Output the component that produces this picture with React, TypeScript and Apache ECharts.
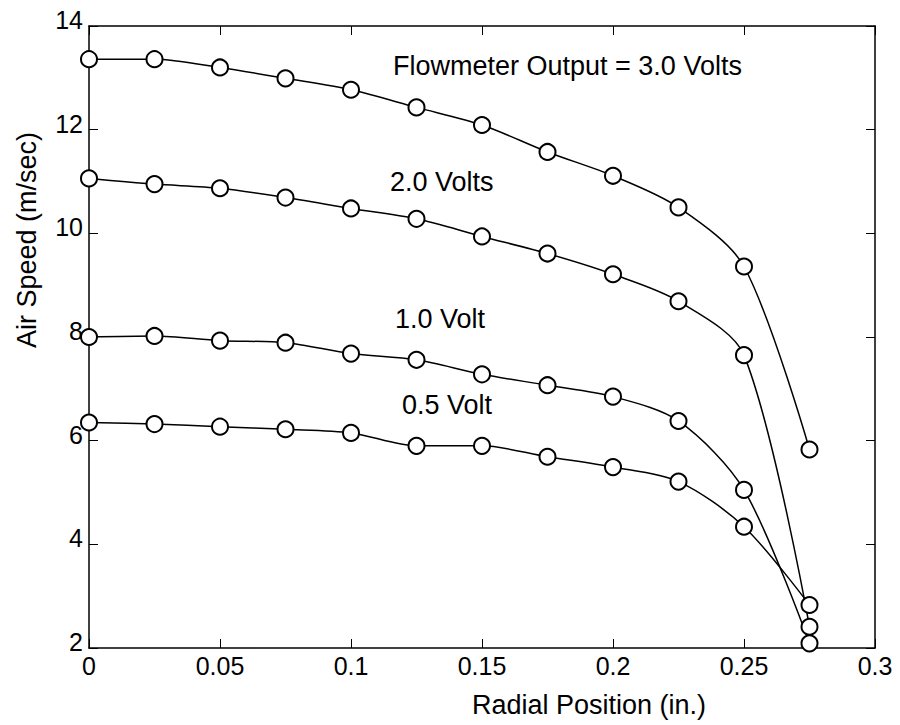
import React, { useEffect, useRef } from "react";
import * as echarts from "echarts";

const positions = [0, 0.025, 0.05, 0.075, 0.1, 0.125, 0.15, 0.175, 0.2, 0.225, 0.25, 0.275];
const volts30 = [13.36, 13.36, 13.2, 12.99, 12.77, 12.43, 12.09, 11.57, 11.11, 10.5, 9.36, 5.83];
const volts20 = [11.06, 10.95, 10.87, 10.69, 10.48, 10.28, 9.94, 9.61, 9.21, 8.69, 7.65, 2.41];
const volts10 = [8.0, 8.02, 7.93, 7.89, 7.68, 7.56, 7.28, 7.07, 6.85, 6.38, 5.05, 2.09];
const volts05 = [6.35, 6.32, 6.27, 6.22, 6.15, 5.9, 5.9, 5.69, 5.49, 5.21, 4.34, 2.83];
const seriesNames = ["3.0 Volts", "2.0 Volts", "1.0 Volt", "0.5 Volt"];
const annotationTexts = ["Flowmeter Output = 3.0 Volts", "2.0 Volts", "1.0 Volt", "0.5 Volt"];
const xTitle = "Radial Position (in.)";
const yTitle = "Air Speed (m/sec)";

const FONT = "'Liberation Sans', Arial, Helvetica, sans-serif";

export default function App() {
  const ref = useRef<HTMLDivElement>(null);
  useEffect(() => {
    if (!ref.current) return;
    const chart = echarts.init(ref.current, null, { renderer: "svg" });
    const all = [volts30, volts20, volts10, volts05];
    const mkSeries = (vals: number[], name: string) => ({
      name,
      type: "line",
      smooth: 0.3,
      data: positions.map((x, i) => [x, vals[i]]),
      symbol: "emptyCircle",
      symbolSize: 16,
      showAllSymbol: true,
      lineStyle: { color: "#000", width: 1.5 },
      itemStyle: { color: "#000", borderColor: "#000", borderWidth: 1.5 },
      emphasis: { disabled: true },
      z: 3,
    });
    const axisCommon = {
      min: 0,
      max: 0.3,
      interval: 0.05,
      axisLine: { show: true, onZero: false, lineStyle: { color: "#000", width: 1.5 } },
      axisTick: { show: true, inside: true, length: 9, lineStyle: { color: "#000", width: 1 } },
      splitLine: { show: false },
    };
    const yCommon = {
      min: 2,
      max: 14,
      interval: 2,
      axisLine: { show: true, onZero: false, lineStyle: { color: "#000", width: 1.5 } },
      axisTick: { show: true, inside: true, length: 9, lineStyle: { color: "#000", width: 1 } },
      splitLine: { show: false },
    };
    const annPos = [
      [393, 66],
      [390, 182],
      [395, 319],
      [402, 405],
    ];
    chart.setOption({
      animation: false,
      backgroundColor: "#fff",
      grid: { left: 89, top: 26, width: 786, height: 622 },
      xAxis: [
        {
          type: "value",
          position: "bottom",
          ...axisCommon,
          axisLabel: {
            color: "#000",
            fontSize: 25,
            fontFamily: FONT,
            margin: 5,
            formatter: (v: number) => String(parseFloat(v.toFixed(3))),
          },
        },
        {
          type: "value",
          position: "top",
          ...axisCommon,
          axisLabel: { show: false },
        },
      ],
      yAxis: [
        {
          type: "value",
          position: "left",
          ...yCommon,
          axisLabel: {
            color: "#000",
            fontSize: 25,
            fontFamily: FONT,
            margin: 6,
            verticalAlign: "bottom",
            lineHeight: 12,
          },
        },
        {
          type: "value",
          position: "right",
          ...yCommon,
          axisLabel: { show: false },
        },
      ],
      series: all.map((v, i) => mkSeries(v, seriesNames[i])),
      graphic: [
        ...annotationTexts.map((t, i) => ({
          type: "text",
          x: annPos[i][0],
          y: annPos[i][1],
          style: {
            text: t,
            fill: "#000",
            font: `27px ${FONT}`,
            textAlign: "left",
            textVerticalAlign: "middle",
          },
        })),
        {
          type: "text",
          x: 589,
          y: 705,
          style: {
            text: xTitle,
            fill: "#000",
            font: `27px ${FONT}`,
            textAlign: "center",
            textVerticalAlign: "middle",
          },
        },
        {
          type: "text",
          x: 27,
          y: 240,
          rotation: Math.PI / 2,
          style: {
            text: yTitle,
            fill: "#000",
            font: `27px ${FONT}`,
            textAlign: "center",
            textVerticalAlign: "middle",
          },
        },
      ],
    });
    return () => chart.dispose();
  }, []);
  return (
    <div
      ref={ref}
      style={{ position: "absolute", left: 0, top: 0, width: 900, height: 725 }}
    />
  );
}
